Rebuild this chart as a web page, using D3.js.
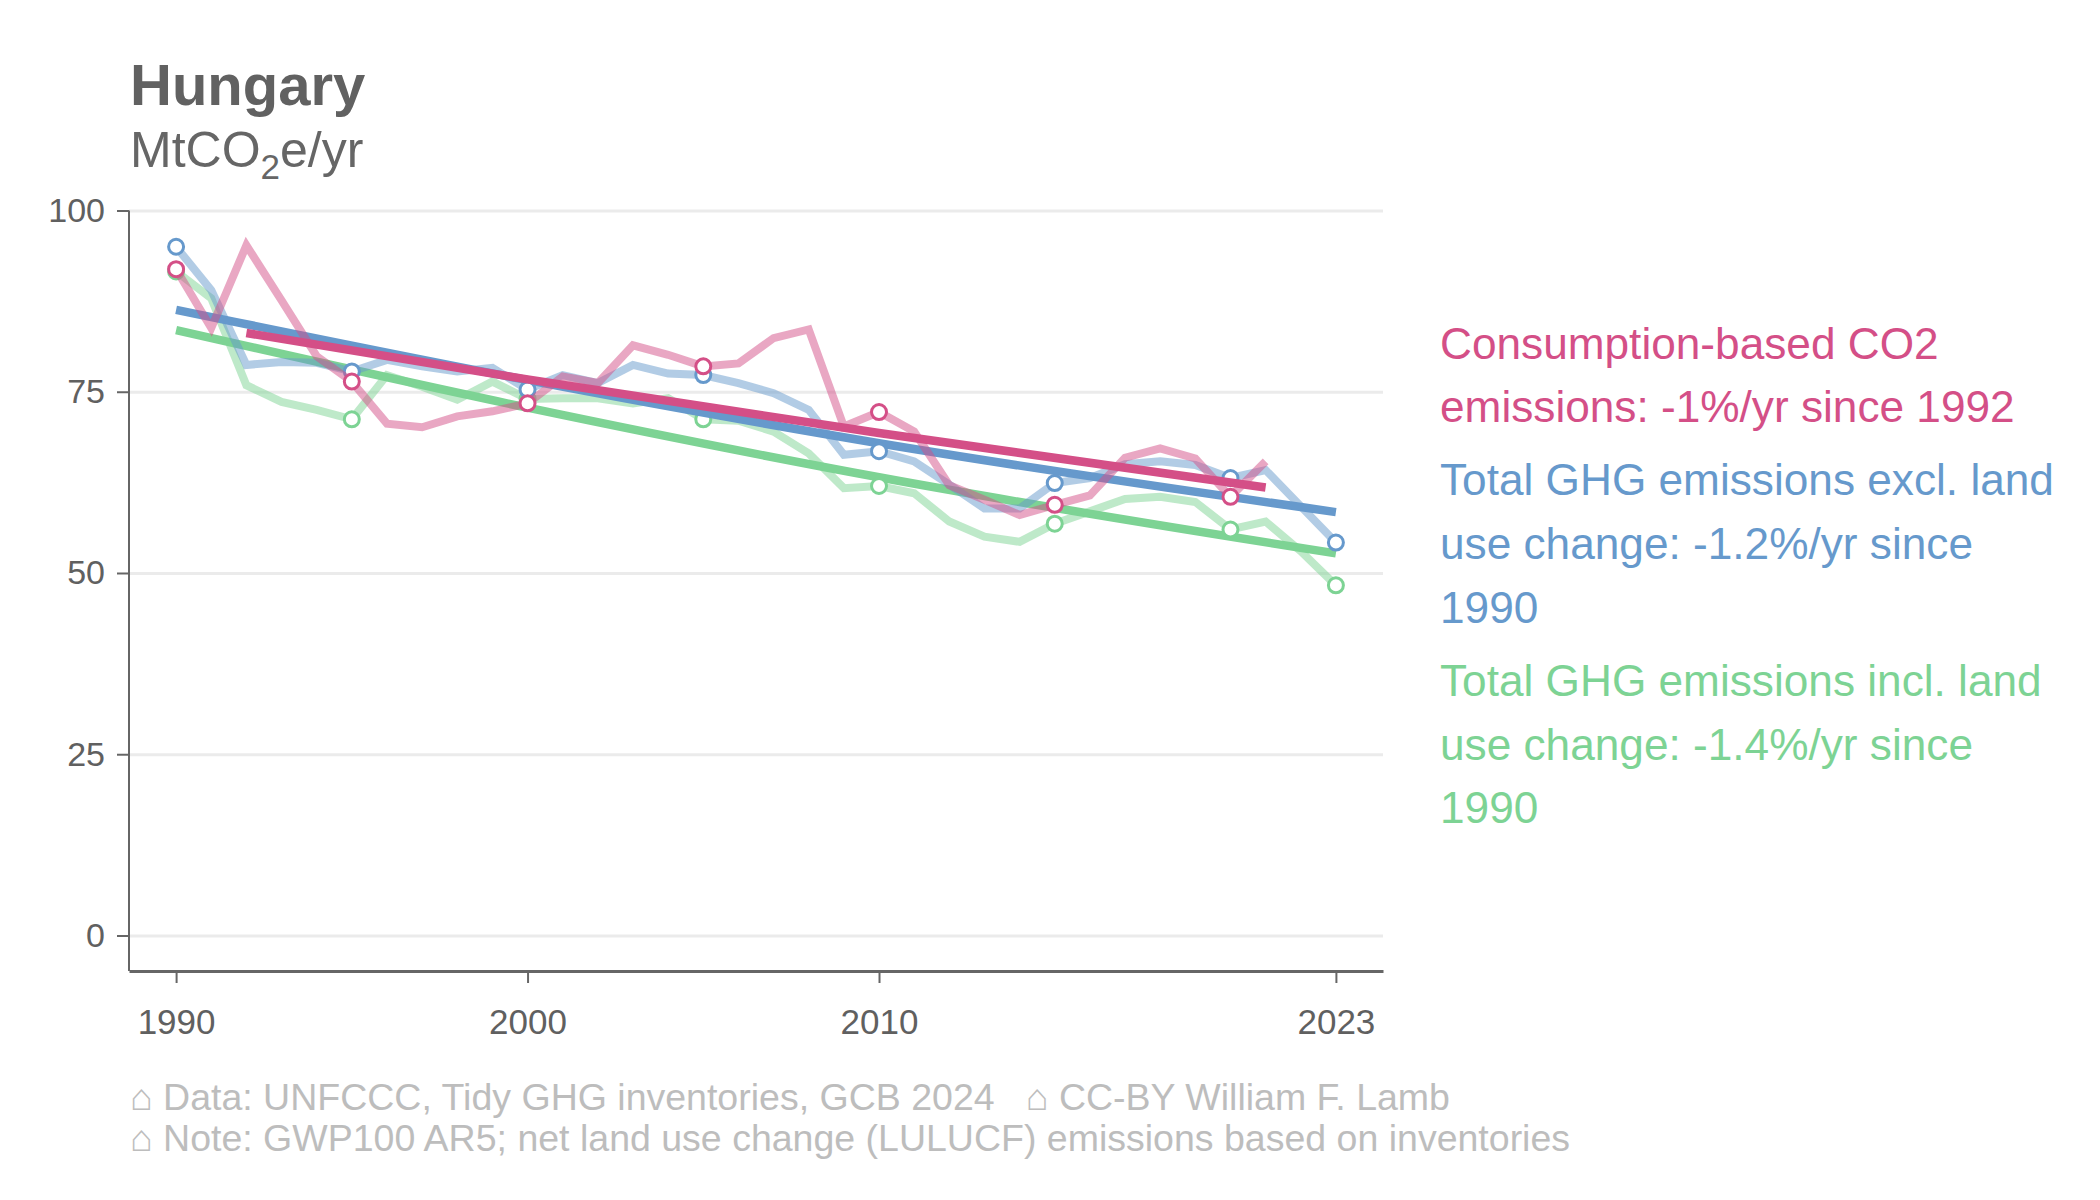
<!DOCTYPE html>
<html>
<head>
<meta charset="utf-8">
<script src="https://cdn.jsdelivr.net/npm/d3@7"></script>
<style>
  body { margin: 0; background: #fff; }
  svg { display: block; font-family: "Liberation Sans", Arial, sans-serif; }
</style>
</head>
<body>
<div id="chart"></div>
<script>
// ── Data ──────────────────────────────────────────────────────────────────────

const years = [1990, 1991, 1992, 1993, 1994, 1995, 1996, 1997, 1998, 1999,
  2000, 2001, 2002, 2003, 2004, 2005, 2006, 2007, 2008, 2009,
  2010, 2011, 2012, 2013, 2014, 2015, 2016, 2017, 2018, 2019,
  2020, 2021, 2022, 2023];

// Total GHG excl. LULUCF
const ghgExcl = [95.0, 89.0, 78.7, 79.1, 79.0, 77.8, 79.4, 78.5, 77.8, 78.3,
  75.3, 77.3, 76.2, 78.7, 77.5, 77.3, 76.2, 74.8, 72.5, 66.3,
  66.8, 65.4, 62.2, 58.9, 58.9, 62.4, 63.1, 65.0, 65.4, 64.9,
  63.1, 64.2, 59.2, 54.2];

// Total GHG incl. LULUCF
const ghgIncl = [91.6, 87.9, 75.9, 73.6, 72.5, 71.2, 77.3, 75.7, 73.9, 76.4,
  74.0, 74.1, 74.1, 73.4, 74.1, 71.2, 71.0, 69.5, 66.5, 61.7,
  62.0, 61.0, 57.1, 55.0, 54.3, 56.8, 58.5, 60.2, 60.5, 59.8,
  56.0, 57.1, 53.0, 48.3];

// Consumption-based CO2 (ends 2021)
const consCO2 = [91.9, 83.8, 95.2, 87.6, 79.9, 76.4, 70.6, 70.1, 71.6, 72.3,
  73.4, 77.1, 76.2, 81.4, 80.1, 78.5, 78.9, 82.4, 83.6, 70.2,
  72.2, 69.5, 62.1, 60.1, 58.0, 59.4, 60.7, 65.9, 67.2, 65.8,
  60.5, 65.4];

// Trend lines, sampled at a few years
const trendExclYears = [1990, 2000, 2010, 2023];
const trendExclValues = [86.3, 76.6, 67.9, 58.4];
const trendInclYears = [1990, 2000, 2010, 2023];
const trendInclValues = [83.5, 72.8, 63.2, 52.7];
const trendConsYears = [1992, 2000, 2010, 2021];
const trendConsValues = [83.1, 76.7, 69.3, 61.8];

const markerYears = [1990, 1995, 2000, 2005, 2010, 2015, 2020, 2023];
const xTicks = [1990, 2000, 2010, 2023];
const yTicks = [0, 25, 50, 75, 100];

const legendLines = [
  ['Consumption-based CO2', 'emissions: -1%/yr since 1992'],
  ['Total GHG emissions excl. land', 'use change: -1.2%/yr since', '1990'],
  ['Total GHG emissions incl. land', 'use change: -1.4%/yr since', '1990'],
];

const footerLines = [
  '\u2302 Data: UNFCCC, Tidy GHG inventories, GCB 2024   \u2302 CC-BY William F. Lamb',
  '\u2302 Note: GWP100 AR5; net land use change (LULUCF) emissions based on inventories',
];

// ── Setup ─────────────────────────────────────────────────────────────────────

const width = 2100;
const height = 1200;
const plot = { left: 129, right: 1383, top: 210.5, bottom: 971 };

const colors = { cons: '#d44f87', excl: '#6699cc', incl: '#7dd394' };

const svg = d3.select('#chart')
  .append('svg')
  .attr('width', width)
  .attr('height', height)
  .attr('viewBox', `0 0 ${width} ${height}`);

const xScale = d3.scaleLinear()
  .domain([1988.66, 2024.34])
  .range([plot.left, plot.right]);

const yScale = d3.scaleLinear()
  .domain([-4.9, 100])
  .range([plot.bottom, plot.top]);

// ── Title ─────────────────────────────────────────────────────────────────────

svg.append('text')
  .attr('x', 130).attr('y', 105)
  .attr('fill', '#616161')
  .style('font-size', '58px').style('font-weight', 'bold')
  .text('Hungary');

const sub = svg.append('text')
  .attr('x', 130).attr('y', 167)
  .attr('fill', '#666')
  .style('font-size', '50px');
sub.append('tspan').text('MtCO');
sub.append('tspan').attr('dy', 12).style('font-size', '35px').text('2');
sub.append('tspan').attr('dy', -12).text('e/yr');

// ── Grid & axes ───────────────────────────────────────────────────────────────

svg.append('g')
  .attr('class', 'gridlines')
  .attr('transform', `translate(${plot.left}, 0)`)
  .call(d3.axisLeft(yScale).tickValues(yTicks).tickFormat('')
    .tickSize(-(plot.right - plot.left)))
  .call((g) => g.select('.domain').remove())
  .call((g) => g.selectAll('line').attr('stroke', '#ebebeb').attr('stroke-width', 3));

const yAxis = svg.append('g')
  .attr('transform', `translate(${plot.left}, 0)`)
  .call(d3.axisLeft(yScale).tickValues(yTicks).tickSize(12).tickPadding(12).tickSizeOuter(0));
yAxis.select('.domain').attr('stroke', '#666').attr('stroke-width', 2)
  .attr('d', `M0,${yScale(100)}V${plot.bottom}`);
yAxis.selectAll('.tick line').attr('stroke', '#666').attr('stroke-width', 2);
yAxis.selectAll('.tick text')
  .attr('fill', '#606060')
  .style('font-size', '34px')
  .style('font-family', '"Liberation Sans", Arial, sans-serif');

const xAxis = svg.append('g')
  .attr('transform', `translate(0, ${plot.bottom})`)
  .call(d3.axisBottom(xScale).tickValues(xTicks).tickFormat(d3.format('d'))
    .tickSize(12).tickPadding(26).tickSizeOuter(0));
xAxis.select('.domain').attr('stroke', '#666').attr('stroke-width', 3);
xAxis.selectAll('.tick line').attr('stroke', '#666').attr('stroke-width', 2);
xAxis.selectAll('.tick text')
  .attr('fill', '#606060')
  .style('font-size', '35px')
  .style('font-family', '"Liberation Sans", Arial, sans-serif');

// ── Series ────────────────────────────────────────────────────────────────────

const line = d3.line().x((d) => xScale(d[0])).y((d) => yScale(d[1]));
const trendLine = d3.line().x((d) => xScale(d[0])).y((d) => yScale(d[1]))
  .curve(d3.curveMonotoneX);

const series = [
  { key: 'incl', values: ghgIncl, tYears: trendInclYears, tValues: trendInclValues },
  { key: 'excl', values: ghgExcl, tYears: trendExclYears, tValues: trendExclValues },
  { key: 'cons', values: consCO2, tYears: trendConsYears, tValues: trendConsValues },
];

for (const s of series) {
  const pts = s.values.map((v, i) => [years[i], v]);
  const g = svg.append('g').attr('class', `series-${s.key}`);

  g.append('path')
    .attr('d', line(pts))
    .attr('fill', 'none')
    .attr('stroke', colors[s.key])
    .attr('stroke-opacity', 0.5)
    .attr('stroke-width', 8);

  g.append('path')
    .attr('d', trendLine(s.tYears.map((y, i) => [y, s.tValues[i]])))
    .attr('fill', 'none')
    .attr('stroke', colors[s.key])
    .attr('stroke-width', 8.5);

  g.selectAll('circle')
    .data(pts.filter((d) => markerYears.includes(d[0])))
    .join('circle')
    .attr('cx', (d) => xScale(d[0]))
    .attr('cy', (d) => yScale(d[1]))
    .attr('r', 7.5)
    .attr('fill', '#fff')
    .attr('stroke', colors[s.key])
    .attr('stroke-width', 3);
}

// ── Legend ────────────────────────────────────────────────────────────────────

const legendColors = [colors.cons, colors.excl, colors.incl];
const legendBaselines = [[359, 422], [495, 559, 623], [696, 760, 823]];

legendLines.forEach((lines, i) => {
  lines.forEach((txt, j) => {
    svg.append('text')
      .attr('x', 1440)
      .attr('y', legendBaselines[i][j])
      .attr('fill', legendColors[i])
      .style('font-size', '44.2px')
      .text(txt);
  });
});

// ── Footer ────────────────────────────────────────────────────────────────────

footerLines.forEach((txt, i) => {
  svg.append('text')
    .attr('x', 130)
    .attr('y', 1110 + i * 41)
    .attr('fill', '#bdbdbd')
    .style('font-size', '37.5px')
    .style('white-space', 'pre')
    .attr('xml:space', 'preserve')
    .text(txt);
});
</script>
</body>
</html>
